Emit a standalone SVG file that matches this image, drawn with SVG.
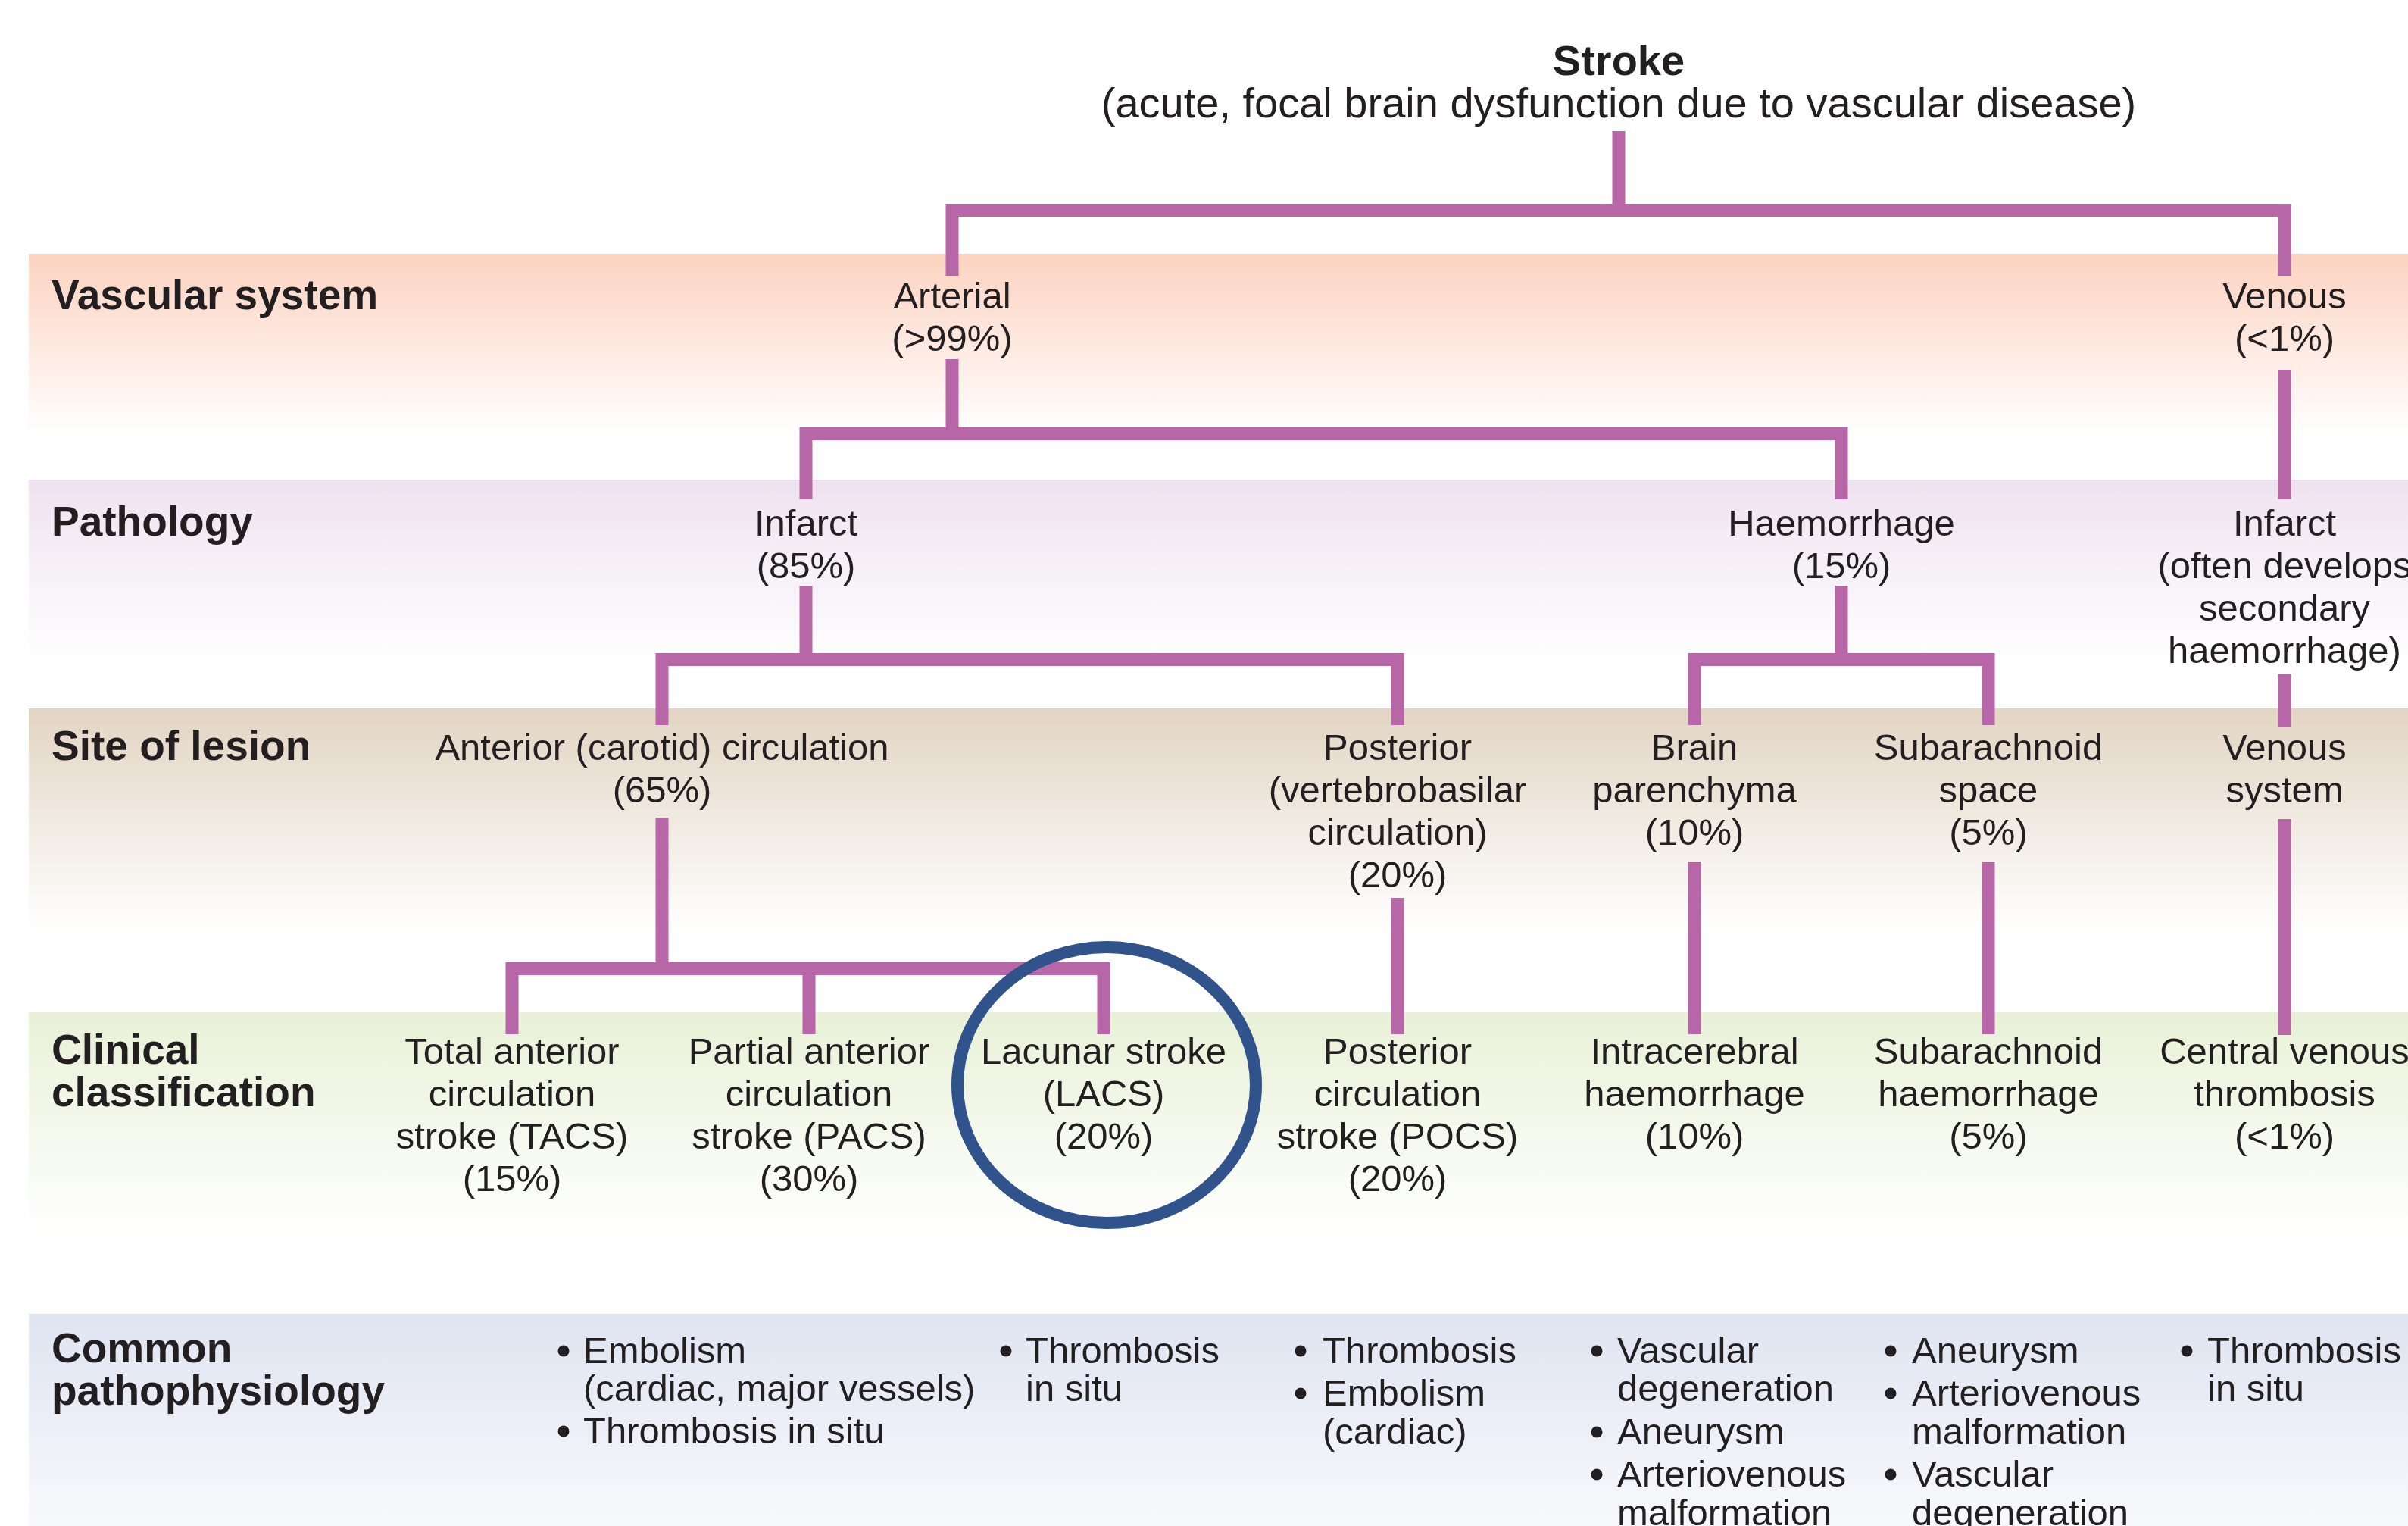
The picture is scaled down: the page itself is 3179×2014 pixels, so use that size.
<svg xmlns="http://www.w3.org/2000/svg" width="3179" height="2014" viewBox="0 0 3179 2014">
<style>
  text { font-family: "Liberation Sans", Arial, sans-serif; fill: #231F20; }
  .n { font-size: 49px; text-anchor: middle; }
  .b { font-size: 49px; }
  .lab { font-size: 55px; font-weight: bold; }
  .title { font-size: 56px; font-weight: bold; text-anchor: middle; }
  .sub { font-size: 56px; text-anchor: middle; }
  .con { fill: none; stroke: #B767A7; stroke-width: 17; stroke-linejoin: miter; stroke-linecap: butt; }
  .dot { fill: #231F20; }
</style>
<defs>
  <linearGradient id="gV" x1="0" y1="0" x2="0" y2="1"><stop offset="0" stop-color="#FCD3C1"/><stop offset="1" stop-color="#FFFFFF"/></linearGradient>
  <linearGradient id="gP" x1="0" y1="0" x2="0" y2="1"><stop offset="0" stop-color="#EFE2F0"/><stop offset="1" stop-color="#FFFFFF"/></linearGradient>
  <linearGradient id="gS" x1="0" y1="0" x2="0" y2="1"><stop offset="0" stop-color="#E2D5C3"/><stop offset="1" stop-color="#FFFFFF"/></linearGradient>
  <linearGradient id="gC" x1="0" y1="0" x2="0" y2="1"><stop offset="0" stop-color="#E8F1D7"/><stop offset="1" stop-color="#FFFFFF"/></linearGradient>
  <linearGradient id="gM" x1="0" y1="0" x2="0" y2="1"><stop offset="0" stop-color="#DFE4F1"/><stop offset="1" stop-color="#F8F9FC"/></linearGradient>
</defs>
<rect width="3179" height="2014" fill="#FFFFFF"/>
<g id="bands">
  <rect x="38" y="335" width="3141" height="241" fill="url(#gV)"/>
  <rect x="38" y="633" width="3141" height="240" fill="url(#gP)"/>
  <rect x="38" y="935" width="3141" height="295" fill="url(#gS)"/>
  <rect x="38" y="1336" width="3141" height="295" fill="url(#gC)"/>
  <rect x="38" y="1734" width="3141" height="280" fill="url(#gM)"/>
</g>
<g id="row-labels">
  <text class="lab" x="68" y="408">Vascular system</text>
  <text class="lab" x="68" y="707">Pathology</text>
  <text class="lab" x="68" y="1003">Site of lesion</text>
  <text class="lab" x="68" y="1404">Clinical</text>
  <text class="lab" x="68" y="1460">classification</text>
  <text class="lab" x="68" y="1798">Common</text>
  <text class="lab" x="68" y="1854">pathophysiology</text>
</g>
<g id="connectors">
  <path class="con" d="M2137,173 V277.5"/>
  <path class="con" d="M1257,364 V277.5 H3016 V364"/>
  <path class="con" d="M1257,474 V572.5"/>
  <path class="con" d="M1064,659 V572.5 H2431 V659"/>
  <path class="con" d="M3016,488 V659"/>
  <path class="con" d="M1064,773 V870.5"/>
  <path class="con" d="M874,957 V870.5 H1845 V957"/>
  <path class="con" d="M2431,773 V870.5"/>
  <path class="con" d="M2237,957 V870.5 H2625 V957"/>
  <path class="con" d="M3016,890 V960"/>
  <path class="con" d="M874,1079 V1278.5"/>
  <path class="con" d="M676,1365 V1278.5 H1457 V1365"/>
  <path class="con" d="M1068,1278.5 V1365"/>
  <path class="con" d="M1845,1185 V1365"/>
  <path class="con" d="M2237,1137 V1365"/>
  <path class="con" d="M2625,1137 V1365"/>
  <path class="con" d="M3016,1081 V1366"/>
</g>
<g id="stroke">
  <text class="title" x="2137" y="99">Stroke</text>
  <text class="sub" x="2137" y="155">(acute, focal brain dysfunction due to vascular disease)</text>
</g>
<g id="arterial"><text class="n" x="1257" y="407">Arterial</text><text class="n" x="1257" y="463">(&gt;99%)</text></g>
<g id="venous"><text class="n" x="3016" y="407">Venous</text><text class="n" x="3016" y="463">(&lt;1%)</text></g>
<g id="infarct"><text class="n" x="1064" y="707">Infarct</text><text class="n" x="1064" y="763">(85%)</text></g>
<g id="haemorrhage"><text class="n" x="2431" y="707">Haemorrhage</text><text class="n" x="2431" y="763">(15%)</text></g>
<g id="venous-infarct"><text class="n" x="3016" y="707">Infarct</text><text class="n" x="3016" y="763">(often develops</text><text class="n" x="3016" y="819">secondary</text><text class="n" x="3016" y="875">haemorrhage)</text></g>
<g id="anterior"><text class="n" x="874" y="1003">Anterior (carotid) circulation</text><text class="n" x="874" y="1059">(65%)</text></g>
<g id="posterior"><text class="n" x="1845" y="1003">Posterior</text><text class="n" x="1845" y="1059">(vertebrobasilar</text><text class="n" x="1845" y="1115">circulation)</text><text class="n" x="1845" y="1171">(20%)</text></g>
<g id="brain-parenchyma"><text class="n" x="2237" y="1003">Brain</text><text class="n" x="2237" y="1059">parenchyma</text><text class="n" x="2237" y="1115">(10%)</text></g>
<g id="subarachnoid-space"><text class="n" x="2625" y="1003">Subarachnoid</text><text class="n" x="2625" y="1059">space</text><text class="n" x="2625" y="1115">(5%)</text></g>
<g id="venous-system"><text class="n" x="3016" y="1003">Venous</text><text class="n" x="3016" y="1059">system</text></g>
<g id="tacs"><text class="n" x="676" y="1404">Total anterior</text><text class="n" x="676" y="1460">circulation</text><text class="n" x="676" y="1516">stroke (TACS)</text><text class="n" x="676" y="1572">(15%)</text></g>
<g id="pacs"><text class="n" x="1068" y="1404">Partial anterior</text><text class="n" x="1068" y="1460">circulation</text><text class="n" x="1068" y="1516">stroke (PACS)</text><text class="n" x="1068" y="1572">(30%)</text></g>
<g id="lacs"><text class="n" x="1457" y="1404">Lacunar stroke</text><text class="n" x="1457" y="1460">(LACS)</text><text class="n" x="1457" y="1516">(20%)</text></g>
<g id="pocs"><text class="n" x="1845" y="1404">Posterior</text><text class="n" x="1845" y="1460">circulation</text><text class="n" x="1845" y="1516">stroke (POCS)</text><text class="n" x="1845" y="1572">(20%)</text></g>
<g id="ich"><text class="n" x="2237" y="1404">Intracerebral</text><text class="n" x="2237" y="1460">haemorrhage</text><text class="n" x="2237" y="1516">(10%)</text></g>
<g id="sah"><text class="n" x="2625" y="1404">Subarachnoid</text><text class="n" x="2625" y="1460">haemorrhage</text><text class="n" x="2625" y="1516">(5%)</text></g>
<g id="cvt"><text class="n" x="3016" y="1404">Central venous</text><text class="n" x="3016" y="1460">thrombosis</text><text class="n" x="3016" y="1516">(&lt;1%)</text></g>
<ellipse id="lacs-highlight" cx="1461" cy="1432" rx="197" ry="182" fill="none" stroke="#30538C" stroke-width="16"/>
<g id="patho-anterior">
  <circle class="dot" cx="744" cy="1783" r="7.5"/><text class="b" x="770" y="1799">Embolism</text>
  <text class="b" x="770" y="1849">(cardiac, major vessels)</text>
  <circle class="dot" cx="744" cy="1889" r="7.5"/><text class="b" x="770" y="1905">Thrombosis in situ</text>
</g>
<g id="patho-lacunar">
  <circle class="dot" cx="1328" cy="1783" r="7.5"/><text class="b" x="1354" y="1799">Thrombosis</text>
  <text class="b" x="1354" y="1849">in situ</text>
</g>
<g id="patho-posterior">
  <circle class="dot" cx="1717" cy="1783" r="7.5"/><text class="b" x="1746" y="1799">Thrombosis</text>
  <circle class="dot" cx="1717" cy="1839" r="7.5"/><text class="b" x="1746" y="1855">Embolism</text>
  <text class="b" x="1746" y="1906">(cardiac)</text>
</g>
<g id="patho-ich">
  <circle class="dot" cx="2108" cy="1783" r="7.5"/><text class="b" x="2135" y="1799">Vascular</text>
  <text class="b" x="2135" y="1849">degeneration</text>
  <circle class="dot" cx="2108" cy="1890" r="7.5"/><text class="b" x="2135" y="1906">Aneurysm</text>
  <circle class="dot" cx="2108" cy="1946" r="7.5"/><text class="b" x="2135" y="1962">Arteriovenous</text>
  <text class="b" x="2135" y="2013">malformation</text>
</g>
<g id="patho-sah">
  <circle class="dot" cx="2496" cy="1783" r="7.5"/><text class="b" x="2524" y="1799">Aneurysm</text>
  <circle class="dot" cx="2496" cy="1839" r="7.5"/><text class="b" x="2524" y="1855">Arteriovenous</text>
  <text class="b" x="2524" y="1906">malformation</text>
  <circle class="dot" cx="2496" cy="1946" r="7.5"/><text class="b" x="2524" y="1962">Vascular</text>
  <text class="b" x="2524" y="2013">degeneration</text>
</g>
<g id="patho-cvt">
  <circle class="dot" cx="2887" cy="1783" r="7.5"/><text class="b" x="2914" y="1799">Thrombosis</text>
  <text class="b" x="2914" y="1849">in situ</text>
</g>
</svg>
